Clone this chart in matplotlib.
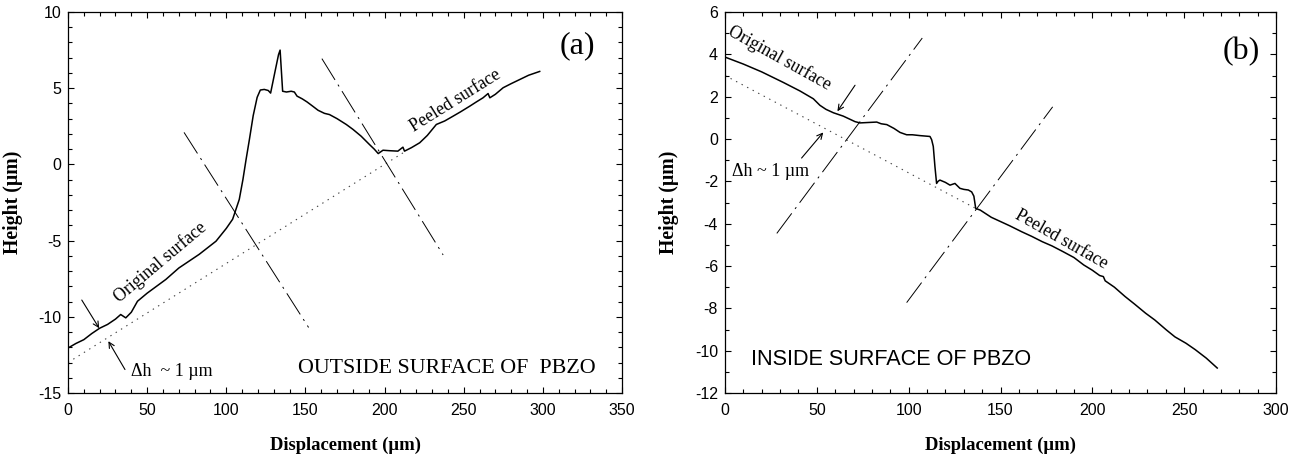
import matplotlib
matplotlib.use("Agg")
import matplotlib.pyplot as plt
import numpy as np
from matplotlib.ticker import MultipleLocator

plt.rcParams["lines.scale_dashes"] = False
plt.rcParams["axes.unicode_minus"] = False

SANS = ["Liberation Sans", "DejaVu Sans"]
SERIF = ["Liberation Serif", "DejaVu Serif"]

# (a) outside surface profile
x_a = [0, 5, 10, 15, 20, 25, 30, 33.3, 36.5, 40, 43.9, 50, 61.8, 70, 82.9,
       93.5, 100, 104, 105.5, 108.2, 110.5, 112.5, 114.6, 117, 119.5, 121.5,
       124, 126.5, 128, 131, 133, 134, 135.6, 138, 141, 143, 144.7, 148, 151,
       154.6, 158, 162, 165.2, 170, 175.8, 180, 185.2, 190.5, 193.5, 196, 199,
       203, 208.4, 211.6, 212.6, 217, 222.2, 227, 232.7, 238, 243.2, 248,
       253.8, 258, 262.2, 265.4, 266.5, 270, 274.9, 280, 285.4, 291, 298]
y_a = [-12.05, -11.75, -11.5, -11.1, -10.75, -10.5, -10.15, -9.85, -10.07,
       -9.7, -8.98, -8.45, -7.55, -6.8, -5.9, -5.04, -4.2, -3.6, -3.14, -2.3,
       -1.0, 0.32, 1.63, 3.2, 4.4, 4.88, 4.92, 4.85, 4.68, 6.2, 7.2, 7.5, 4.8,
       4.75, 4.8, 4.75, 4.48, 4.3, 4.1, 3.82, 3.55, 3.35, 3.27, 3.0, 2.62, 2.3,
       1.85, 1.3, 1.0, 0.71, 0.93, 0.9, 0.87, 1.13, 0.87, 1.1, 1.42, 1.9, 2.62,
       2.85, 3.16, 3.45, 3.82, 4.1, 4.37, 4.65, 4.37, 4.6, 5.03, 5.3, 5.57,
       5.85, 6.1]
ref_a_x = [0, 212]
ref_a_y = [-13.0, 0.78]
cut_a1_x = [73.3, 152]
cut_a1_y = [2.1, -10.7]
cut_a2_x = [160.4, 237]
cut_a2_y = [6.94, -5.94]

# (b) inside surface profile
x_b = [0, 10, 20, 31.8, 40.8, 48.1, 51.7, 55, 59, 64.4, 70.8, 73.5, 78, 82.6,
       85, 88.1, 92, 95.3, 98.9, 102, 106.2, 111.6, 112.5, 113.4, 114.3, 115.2,
       116, 117, 120, 122.5, 125.2, 127.9, 130, 132.5, 134.3, 135.5, 136.5,
       139, 145, 150, 155, 161.5, 167, 172.7, 178, 184, 190, 195.3, 200, 204,
       206, 207, 212, 217.8, 223, 229, 234, 240.3, 245, 249, 251, 256, 262, 268]
y_b = [3.87, 3.54, 3.17, 2.67, 2.27, 1.9, 1.59, 1.4, 1.24, 1.08, 0.82, 0.76,
       0.78, 0.8, 0.72, 0.68, 0.5, 0.31, 0.2, 0.2, 0.16, 0.12, -0.03, -0.35,
       -1.3, -2.1, -2.0, -1.94, -2.05, -2.18, -2.1, -2.33, -2.38, -2.41, -2.5,
       -2.7, -3.28, -3.36, -3.7, -3.9, -4.1, -4.38, -4.6, -4.85, -5.05, -5.32,
       -5.6, -5.95, -6.2, -6.45, -6.5, -6.7, -7.0, -7.44, -7.8, -8.23, -8.55,
       -9.02, -9.35, -9.55, -9.65, -9.95, -10.35, -10.82]
ref_b_x = [0, 136.5]
ref_b_y = [3.0, -3.28]
cut_b1_x = [28.2, 107.4]
cut_b1_y = [-4.46, 4.77]
cut_b2_x = [98.9, 178.4]
cut_b2_y = [-7.73, 1.52]

DASHDOT = (0, (18, 4, 1.5, 4))
DOTTED = (0, (1, 3.5))


def style_axes(ax, xmax, ymin, ymax, ymajor, ylab_x):
    ax.set_xlim(0, xmax)
    ax.set_ylim(ymin, ymax)
    ax.xaxis.set_major_locator(MultipleLocator(50))
    ax.xaxis.set_minor_locator(MultipleLocator(10))
    ax.yaxis.set_major_locator(MultipleLocator(ymajor))
    ax.yaxis.set_minor_locator(MultipleLocator(1))
    ax.tick_params(which="both", direction="in", top=True, right=True,
                   width=0.8, labelsize=11.5)
    ax.tick_params(which="major", length=4.5)
    ax.tick_params(which="minor", length=3)
    ax.tick_params(axis="x", pad=7)
    ax.tick_params(axis="y", pad=5)
    for lab in ax.get_xticklabels() + ax.get_yticklabels():
        lab.set_family(SANS)
    for sp in ax.spines.values():
        sp.set_linewidth(0.9)
    ax.set_xlabel("Displacement (µm)", family=SERIF, fontweight="bold",
                  fontsize=13.4)
    ax.set_ylabel("Height (µm)", family=SERIF, fontweight="bold",
                  fontsize=14.2)
    ax.xaxis.set_label_coords(0.5, -0.115)
    ax.yaxis.set_label_coords(ylab_x, 0.5)


fig = plt.figure(figsize=(12.9, 4.58), dpi=100)
ax1 = fig.add_axes([68 / 1290, 1 - 393 / 458, 554 / 1290, 381 / 458])
ax2 = fig.add_axes([725 / 1290, 1 - 393 / 458, 551 / 1290, 381 / 458])

# panel (a)
ax1.plot(x_a, y_a, color="black", lw=1.1)
ax1.plot(ref_a_x, ref_a_y, color="#444", lw=0.8, linestyle=DOTTED)
ax1.plot(cut_a1_x, cut_a1_y, color="black", lw=0.7, linestyle=DASHDOT)
ax1.plot(cut_a2_x, cut_a2_y, color="black", lw=0.7, linestyle=DASHDOT)
style_axes(ax1, 350, -15, 10, 5, -0.081)

ax1.text(58, -6.4, "Original surface", family=SERIF, fontsize=12.8,
         rotation=40, rotation_mode="anchor", ha="center", va="center")
ax1.text(244.5, 4.2, "Peeled surface", family=SERIF, fontsize=12.8,
         rotation=32, rotation_mode="anchor", ha="center", va="center")
ax1.text(322, 7.77, "(a)", family=SERIF, fontsize=23, ha="center", va="center")
ax1.text(239.5, -13.4, "OUTSIDE SURFACE OF  PBZO", family=SERIF,
         fontsize=15.8, ha="center", va="center")
ax1.text(40, -13.6, "Δh  ~ 1 µm", family=SERIF, fontsize=13,
         ha="left", va="center")
arrow = dict(arrowstyle="->", lw=0.8, color="black", shrinkA=0, shrinkB=0)
ax1.annotate("", xy=(19.7, -10.75), xytext=(8.7, -8.9), arrowprops=arrow)
ax1.annotate("", xy=(25.5, -11.6), xytext=(36, -13.46), arrowprops=arrow)

# panel (b)
ax2.plot(x_b, y_b, color="black", lw=1.1)
ax2.plot(ref_b_x, ref_b_y, color="#444", lw=0.8, linestyle=DOTTED)
ax2.plot(cut_b1_x, cut_b1_y, color="black", lw=0.7, linestyle=DASHDOT)
ax2.plot(cut_b2_x, cut_b2_y, color="black", lw=0.7, linestyle=DASHDOT)
style_axes(ax2, 300, -12, 6, 2, -0.083)

ax2.text(29.5, 3.82, "Original surface", family=SERIF, fontsize=12.8,
         rotation=-29, rotation_mode="anchor", ha="center", va="center")
ax2.text(183, -4.77, "Peeled surface", family=SERIF, fontsize=12.8,
         rotation=-29.5, rotation_mode="anchor", ha="center", va="center")
ax2.text(281, 4.12, "(b)", family=SERIF, fontsize=23, ha="center", va="center")
ax2.text(14, -10.44, "INSIDE SURFACE OF PBZO", family=SANS, fontsize=15.6,
         ha="left", va="center")
ax2.text(3.6, -1.54, "Δh ~ 1 µm", family=SERIF, fontsize=13,
         ha="left", va="center")
ax2.annotate("", xy=(61.2, 1.31), xytext=(70.8, 2.54), arrowprops=arrow)
ax2.annotate("", xy=(53.5, 0.31), xytext=(41.7, -0.9), arrowprops=arrow)

fig.savefig("out.png", dpi=100)
